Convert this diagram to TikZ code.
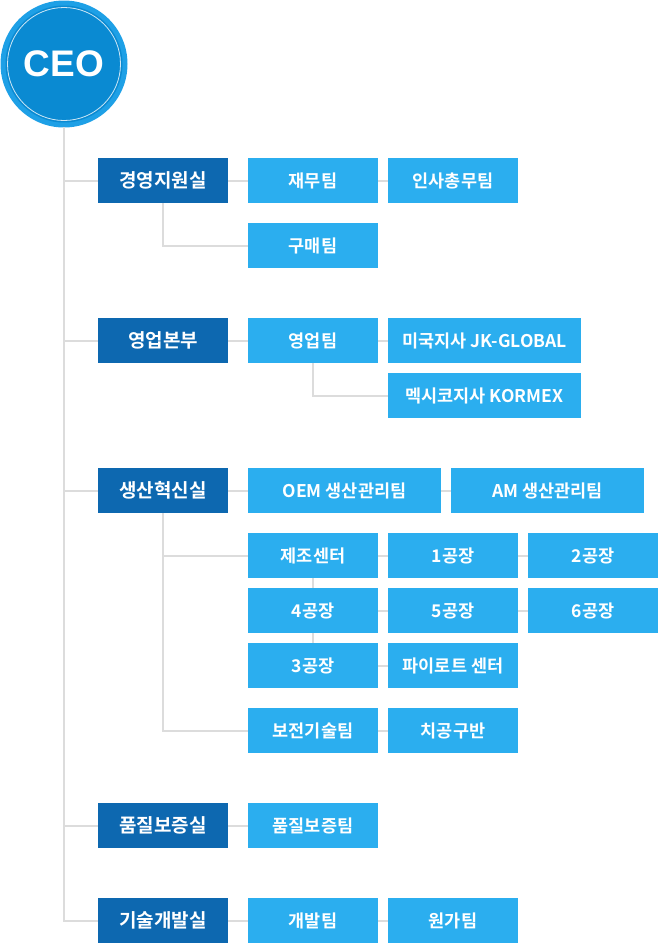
\documentclass[tikz,border=0pt]{standalone}
\usepackage{fontspec}
\newfontfamily\krfont{Noto Sans CJK KR}[BoldFont={Noto Sans CJK KR Bold}]
\newfontfamily\ceofont{Liberation Sans}
\definecolor{deptblue}{HTML}{0D68B0}
\definecolor{teamblue}{HTML}{2BAEEF}
\definecolor{ringblue}{HTML}{1EA0E6}
\definecolor{ceoblue}{HTML}{0A8AD2}
\definecolor{linegray}{HTML}{DCDCDC}
\begin{document}
\begin{tikzpicture}[x=1pt,y=-1pt,
  dept/.style={fill=deptblue,text=white,minimum width=130pt,minimum height=45pt,inner sep=0pt,font=\krfont\bfseries\fontsize{19}{22}\selectfont},
  team/.style={fill=teamblue,text=white,minimum width=130pt,minimum height=45pt,inner sep=0pt,font=\krfont\bfseries\fontsize{17.5}{20}\selectfont},
  wide/.style={team,minimum width=193pt},
  conn/.style={draw=linegray,line width=2pt}]
\useasboundingbox (0,0) rectangle (658,943);
% CEO
\fill[ringblue] (64,64) circle (63.5);
\fill[ceoblue] (64,64) circle (58.5);
\draw[white,opacity=0.8,line width=0.8pt] (64,64) circle (56.5);
\node[text=white,font=\ceofont\bfseries\fontsize{37}{40}\selectfont,inner sep=0pt] (ceo) at (64,64) {CEO};
\coordinate (ceob) at (64,127);
% departments
\node[dept] (d1) at (163,180.5) {경영지원실};
\node[dept] (d2) at (163,340.5) {영업본부};
\node[dept] (d3) at (163,490.5) {생산혁신실};
\node[dept] (d4) at (163,825.5) {품질보증실};
\node[dept] (d5) at (163,920.5) {기술개발실};
% teams
\node[team] (jaemu) at (313,180.5) {재무팀};
\node[team] (insa) at (453,180.5) {인사총무팀};
\node[team] (gumae) at (313,245.5) {구매팀};
\node[team] (sales) at (313,340.5) {영업팀};
\node[wide] (usa) at (484.5,340.5) {미국지사 JK-GLOBAL};
\node[wide] (mex) at (484.5,395.5) {멕시코지사 KORMEX};
\node[wide] (oem) at (344.5,490.5) {OEM 생산관리팀};
\node[wide] (am) at (547.5,490.5) {AM 생산관리팀};
\node[team] (jejo) at (313,555.5) {제조센터};
\node[team] (f1) at (453,555.5) {1공장};
\node[team] (f2) at (593,555.5) {2공장};
\node[team] (f4) at (313,610.5) {4공장};
\node[team] (f5) at (453,610.5) {5공장};
\node[team] (f6) at (593,610.5) {6공장};
\node[team] (f3) at (313,665.5) {3공장};
\node[team] (pilot) at (453,665.5) {파이로트 센터};
\node[team] (bojeon) at (313,730.5) {보전기술팀};
\node[team] (chigong) at (453,730.5) {치공구반};
\node[team] (qteam) at (313,825.5) {품질보증팀};
\node[team] (dev) at (313,920.5) {개발팀};
\node[team] (cost) at (453,920.5) {원가팀};
% main trunk
\draw[conn] (ceob) |- (d5.west);
\foreach \d in {d1,d2,d3,d4}{\draw[conn] (\d.west) -- (\d.west -| ceob);}
% department links
\draw[conn] (d1.east) -- (jaemu.west);
\draw[conn] (jaemu.east) -- (insa.west);
\draw[conn] (d1.south) |- (gumae.west);
\draw[conn] (d2.east) -- (sales.west);
\draw[conn] (sales.east) -- (usa.west);
\draw[conn] (sales.south) |- (mex.west);
\draw[conn] (d3.east) -- (oem.west);
\draw[conn] (oem.east) -- (am.west);
\draw[conn] (d3.south) |- (bojeon.west);
\draw[conn] (jejo.west) -- (jejo.west -| d3.south);
\draw[conn] (jejo.east) -- (f1.west);
\draw[conn] (f1.east) -- (f2.west);
\draw[conn] (f4.east) -- (f5.west);
\draw[conn] (f5.east) -- (f6.west);
\draw[conn] (f3.east) -- (pilot.west);
\draw[conn] (jejo.south) -- (f4.north);
\draw[conn] (f4.south) -- (f3.north);
\draw[conn] (bojeon.east) -- (chigong.west);
\draw[conn] (d4.east) -- (qteam.west);
\draw[conn] (d5.east) -- (dev.west);
\draw[conn] (dev.east) -- (cost.west);
\end{tikzpicture}
\end{document}
